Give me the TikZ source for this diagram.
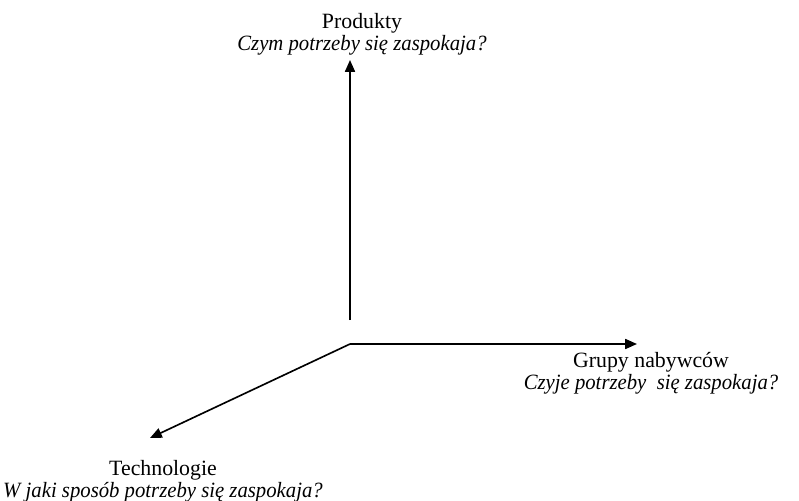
\documentclass[tikz,border=0pt]{standalone}
\usepackage{fontspec}
\setmainfont{Liberation Serif}
\usepackage{tikz}
\usetikzlibrary{arrows.meta}
\newcommand{\askline}[1]{\scalebox{0.95}[1]{\textit{#1}}}

\begin{document}
\begin{tikzpicture}[x=0.55pt, y=-0.55pt,
        axis_arrow/.style={line width=0.9pt, -{Triangle[length=6.5pt, width=5.5pt]}},
        axis_label/.style={align=center, inner sep=0pt, font=\fontsize{12}{10.5}\selectfont}]
        \useasboundingbox (0,0) rectangle (799,501);
        % axes
        \coordinate (o) at (350,344);
        \coordinate (v_start) at (350,320);
        \coordinate (v_tip) at (350,60);
        \coordinate (h_tip) at (637,344);
        \coordinate (d_tip) at (150,438);
        \draw[axis_arrow] (v_start) -- (v_tip);
        \draw[axis_arrow] (o) -- (h_tip);
        \draw[axis_arrow] (o) -- (d_tip);
        % labels
        \node[axis_label] (prod) at (362,34) {Produkty\\\askline{Czym potrzeby się zaspokaja?}};
        \node[axis_label] (grupy) at (651,373) {Grupy nabywców\\\askline{Czyje potrzeby\ \ się zaspokaja?}};
        \node[axis_label] (tech) at (163,481) {Technologie\\\askline{W jaki sposób potrzeby się zaspokaja?}};
      \end{tikzpicture}
\end{document}
